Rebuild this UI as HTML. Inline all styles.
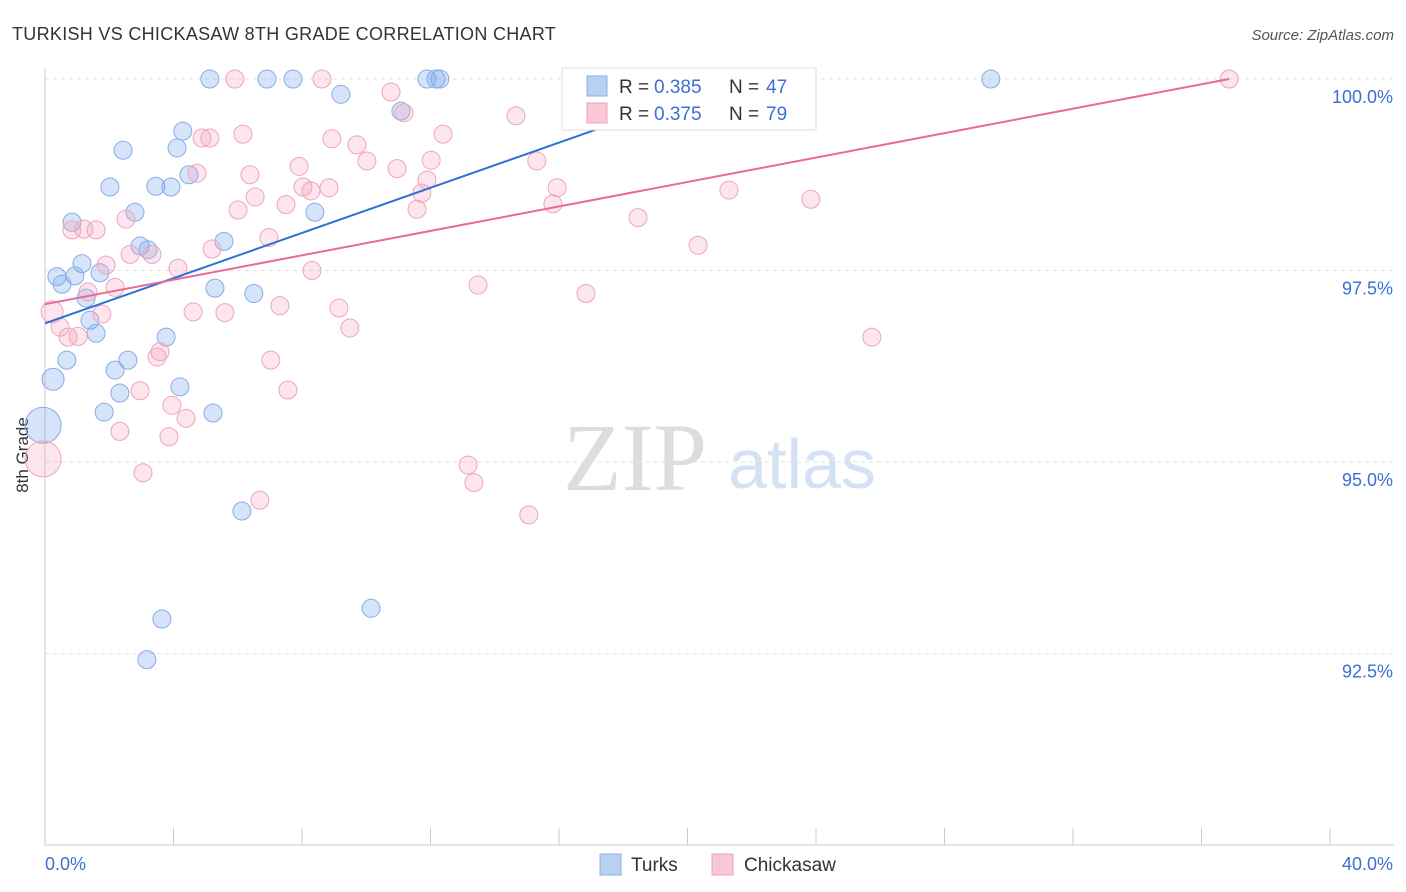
<!DOCTYPE html>
<html><head><meta charset="utf-8"><style>
body{margin:0;background:#fff;font-family:"Liberation Sans",sans-serif;}
svg{display:block}
</style></head><body>
<svg width="1406" height="892">
<text x="12" y="40" font-size="18" fill="#333" letter-spacing="0.3">TURKISH VS CHICKASAW 8TH GRADE CORRELATION CHART</text>
<text x="1394" y="40" font-size="15" fill="#555" font-style="italic" text-anchor="end">Source: ZipAtlas.com</text>
<text x="635" y="490" font-size="96" fill="#ddd" font-family="Liberation Serif,serif" text-anchor="middle">ZIP</text>
<text x="802" y="488" font-size="70" fill="#d5e2f5" text-anchor="middle">atlas</text>
<g id="grid"></g>
<line x1="45" y1="68" x2="45" y2="845" stroke="#ccc"/>
<line x1="45" y1="845" x2="1394" y2="845" stroke="#ccc"/>
<text x="28" y="455" font-size="17" fill="#333" transform="rotate(-90 28 455)" text-anchor="middle">8th Grade</text>
<text x="45" y="870" font-size="18" fill="#3b6fd4">0.0%</text>
<text x="1393" y="870" font-size="18" fill="#3b6fd4" text-anchor="end">40.0%</text>
<g id="pts"></g>
<g id="lines"></g>
<g>
<rect x="562" y="68" width="254" height="62" fill="#fff" stroke="#ddd"/>
<rect x="587" y="76" width="20" height="20" fill="#b8d0f2" stroke="#8ab0e8"/>
<text x="619" y="93" font-size="19" fill="#333">R = </text><text x="654" y="93" font-size="19" fill="#3b6fd4">0.385</text>
<text x="729" y="93" font-size="19" fill="#333">N = </text><text x="766" y="93" font-size="19" fill="#3b6fd4">47</text>
<rect x="587" y="103" width="20" height="20" fill="#f8c8d6" stroke="#f0a0b8"/>
<text x="619" y="120" font-size="19" fill="#333">R = </text><text x="654" y="120" font-size="19" fill="#3b6fd4">0.375</text>
<text x="729" y="120" font-size="19" fill="#333">N = </text><text x="766" y="120" font-size="19" fill="#3b6fd4">79</text>
</g>
<g><rect x="600" y="854" width="21" height="21" fill="#b8d0f2" stroke="#8ab0e8"/><text x="631" y="871" font-size="19" fill="#333">Turks</text></g>
<g><rect x="712" y="854" width="21" height="21" fill="#f8c8d6" stroke="#f0a0b8"/><text x="744" y="871" font-size="19" fill="#333">Chickasaw</text></g>
</svg>
<script>
const yTicks=[100,97.5,95,92.5];
const yTickLabels=["100.0%","97.5%","95.0%","92.5%"];
const xTicks=[0,4,8,12,16,20,24,28,32,36,40];
const turksX=[5.13,6.91,7.72,11.89,12.17,12.29,29.44,9.21,11.08,4.29,4.11,2.43,4.48,2.02,3.45,3.92,2.80,0.84,8.40,5.57,2.96,3.21,0.37,1.15,0.93,1.71,0.53,5.29,6.50,1.28,1.40,1.59,3.77,0.68,2.58,2.18,0.25,2.33,4.20,1.84,5.23,-0.06,6.13,3.64,10.15,3.17];
const turksY=[100,100,100,100,100,100,100,99.80,99.58,99.32,99.10,99.07,98.75,98.59,98.60,98.59,98.26,98.13,98.26,97.88,97.82,97.77,97.42,97.59,97.43,97.47,97.32,97.27,97.20,97.14,96.85,96.68,96.63,96.33,96.33,96.20,96.08,95.90,95.98,95.65,95.64,95.48,94.36,92.95,93.09,92.42];
const turksR=[9,9,9,9,9,9,9,9,9,9,9,9,9,9,9,9,9,9,9,9,9,9,9,9,9,9,9,9,9,9,9,9,9,9,9,9,11,9,9,9,9,18,9,9,9,9];
const chickX=[5.91,8.62,16.59,18.30,21.01,36.86,10.77,11.17,14.66,12.39,6.16,4.89,5.13,8.93,9.71,15.31,7.91,10.02,12.02,10.96,4.73,6.38,11.89,8.03,8.28,8.84,15.94,21.29,11.73,6.54,7.50,6.01,11.58,15.81,23.84,18.46,2.52,0.84,1.21,1.59,6.97,5.20,2.65,3.33,20.33,1.90,4.14,8.31,2.18,13.48,1.34,16.84,7.31,4.61,5.60,9.15,0.22,1.77,0.47,9.49,0.72,1.03,25.74,3.58,3.49,7.03,7.56,2.96,3.95,4.39,2.33,3.86,-0.06,13.17,3.05,13.35,6.69,15.06];
const chickY=[100,100,100,100,100,100,99.83,99.56,99.52,99.28,99.28,99.23,99.23,99.22,99.14,98.93,98.86,98.93,98.94,98.83,98.77,98.75,98.68,98.59,98.54,98.58,98.58,98.55,98.51,98.46,98.36,98.29,98.30,98.37,98.43,98.19,98.17,98.03,98.04,98.03,97.93,97.78,97.71,97.71,97.83,97.57,97.53,97.50,97.28,97.31,97.22,97.20,97.04,96.96,96.95,97.01,96.96,96.93,96.76,96.75,96.63,96.64,96.63,96.44,96.37,96.33,95.94,95.93,95.74,95.57,95.40,95.33,95.04,94.96,94.86,94.73,94.50,94.31];
const chickR=chickY.map((v,i)=>i==72?18:(i==56?11:9));
const trendTurks=[[0,96.81],[21.63,100]];
const trendChick=[[0,97.06],[36.86,100]];
const NS="http://www.w3.org/2000/svg";
const X=v=>45+v/40*1285, Y=v=>79+(100-v)*76.6;
function mk(t,a,p){const e=document.createElementNS(NS,t);for(const k in a)e.setAttribute(k,a[k]);p.appendChild(e);return e;}
const grid=document.getElementById('grid');
yTicks.forEach((v,i)=>{
 const l=mk('line',{x1:45,x2:1394,y1:Y(v),y2:Y(v),stroke:'#e2e2e2','stroke-dasharray':'4,4'},grid);
 
 
 const t=mk('text',{x:1393,y:Y(v)+24,'font-size':18,fill:'#3b6fd4','text-anchor':'end'},grid);t.textContent=yTickLabels[i];
 
 
});
xTicks.forEach(v=>{
 const l=mk('line',{x1:X(v),x2:X(v),y1:828,y2:845,stroke:'#ccc'},grid);
 
 
});
const pts=document.getElementById('pts');
turksX.forEach((v,i)=>{
 const c=mk('circle',{cx:X(v),cy:Y(turksY[i]),r:turksR[i],fill:'rgba(120,165,235,0.3)',stroke:'#86acea','stroke-width':1},pts);
 
 
});
chickX.forEach((v,i)=>{
 const c=mk('circle',{cx:X(v),cy:Y(chickY[i]),r:chickR[i],fill:'rgba(245,160,185,0.28)',stroke:'#f0a4bc','stroke-width':1},pts);
 
 
});
const lines=document.getElementById('lines');
const lt=mk('line',{x1:X(trendTurks[0][0]),y1:Y(trendTurks[0][1]),x2:X(trendTurks[1][0]),y2:Y(trendTurks[1][1]),stroke:'#2f6fd6','stroke-width':2},lines);


const lc=mk('line',{x1:X(trendChick[0][0]),y1:Y(trendChick[0][1]),x2:X(trendChick[1][0]),y2:Y(trendChick[1][1]),stroke:'#e8699a','stroke-width':2},lines);


</script>
</body></html>
